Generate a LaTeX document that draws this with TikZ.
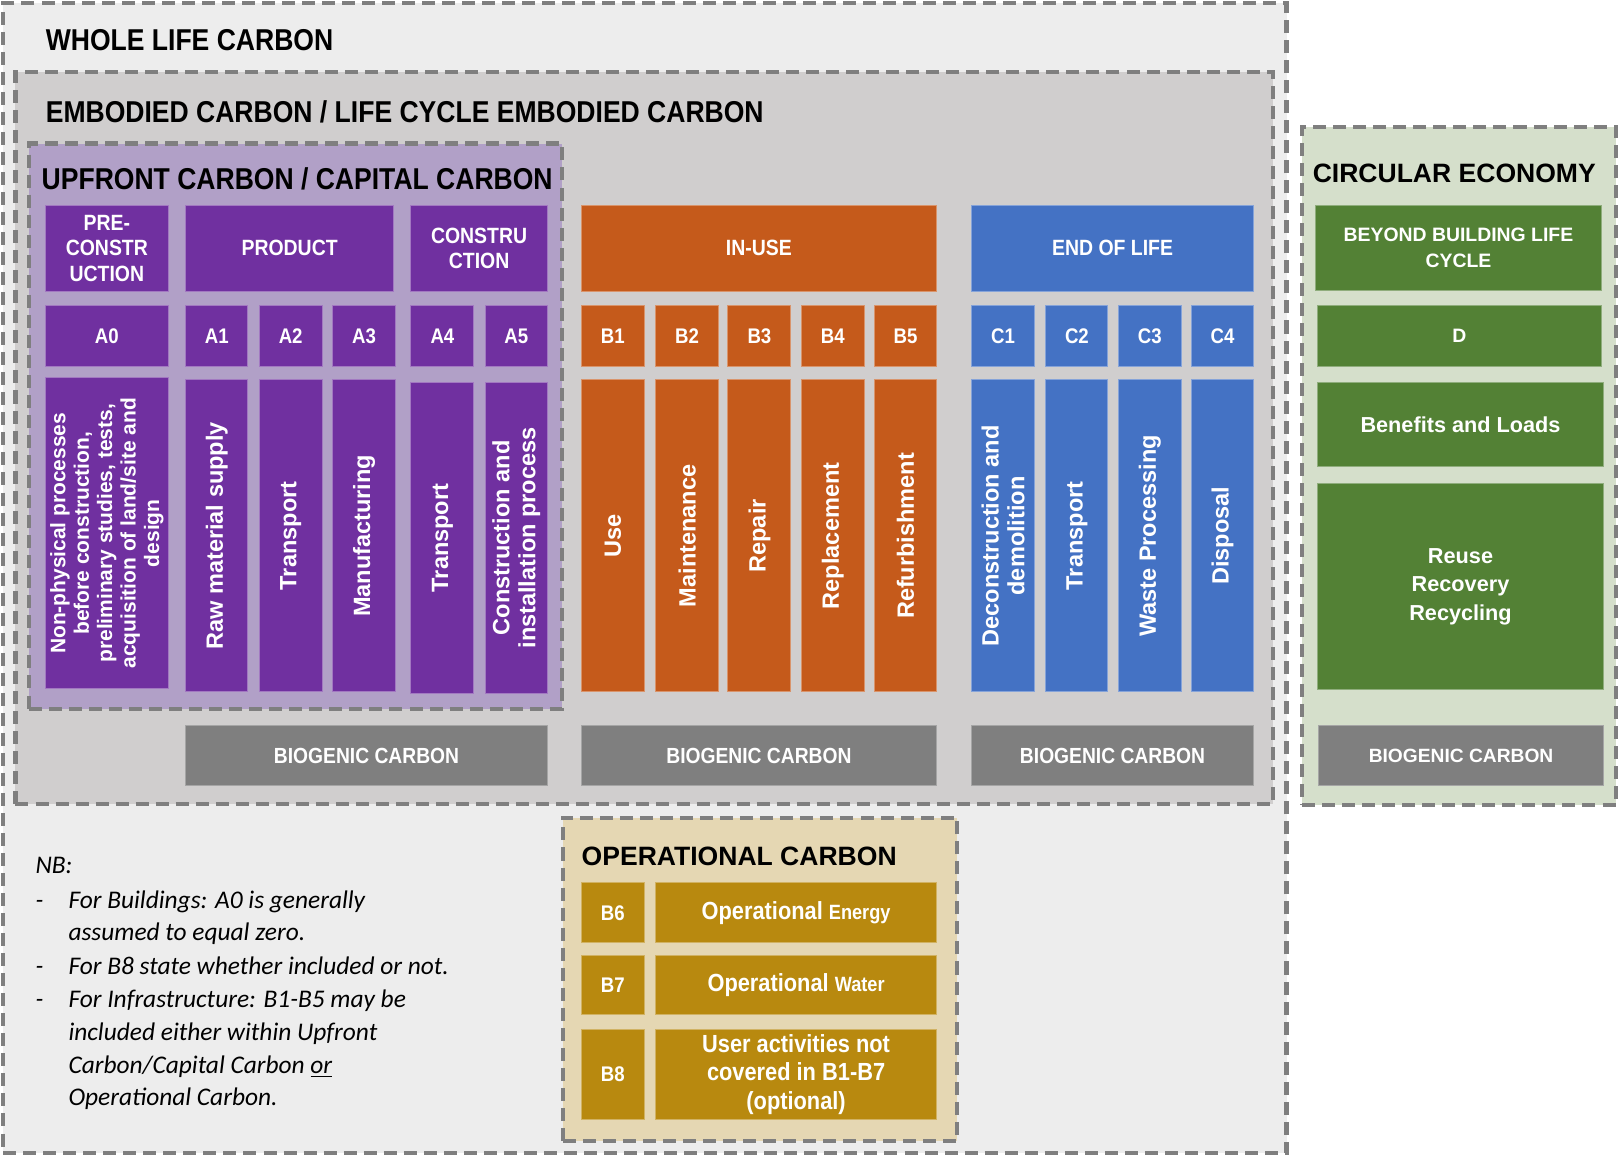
\documentclass[tikz,border=0pt]{standalone}
\usepackage{fontspec}
\setmainfont{Liberation Sans}
\newfontfamily\narfont[FakeStretch=0.88]{Liberation Sans}
\newfontfamily\nbfont{Carlito}
\definecolor{purp}{HTML}{7030A0}
\definecolor{upf}{HTML}{B1A0C7}
\definecolor{ora}{HTML}{C55A1B}
\definecolor{blu}{HTML}{4472C4}
\definecolor{grn}{HTML}{538135}
\definecolor{gld}{HTML}{B8890F}
\definecolor{bioc}{HTML}{7F7F7F}
\definecolor{emb}{HTML}{D0CECE}
\definecolor{whl}{HTML}{EDEDED}
\definecolor{circ}{HTML}{D5DFCB}
\definecolor{opf}{HTML}{E5D7B3}
\definecolor{dashc}{HTML}{7F7F7F}
\newcommand\bx[7]{\node[#6, minimum width={(#4-#2)*0.5pt}, minimum height={(#5-#3)*0.5pt}] (#1) at ({(#2+#4)/2},{(#3+#5)/2}) {#7};}
\begin{document}
\begin{tikzpicture}[x=0.5pt,y=-0.5pt,
  cont/.style={draw=dashc, line width=2pt, dash pattern=on 6.3pt off 3.4pt, inner sep=0pt},
  pf/.style={fill=purp, draw=purp!65!white, line width=0.5pt},
  of/.style={fill=ora, draw=ora!65!white, line width=0.5pt},
  bf/.style={fill=blu, draw=blu!65!white, line width=0.5pt},
  gf/.style={fill=grn, draw=grn!65!white, line width=0.5pt},
  yf/.style={fill=gld, draw=gld!65!white, line width=0.5pt},
  cell/.style={inner sep=0pt, text=white, align=center},
  hdr/.style={cell, font=\narfont\bfseries\fontsize{10.7}{12.25}\selectfont},
  code/.style={cell, font=\narfont\bfseries\fontsize{10.25}{12}\selectfont},
  desc/.style={inner sep=0pt},
  vert/.style={text=white, align=center, rotate=90, inner sep=0pt, font=\bfseries\fontsize{11.4}{12.5}\selectfont},
  vsmall/.style={vert, font=\bfseries\fontsize{10.15}{11.35}\selectfont},
  regs/.style={cell, font=\bfseries\fontsize{9.4}{12.4}\selectfont},
  regl/.style={cell, font=\bfseries\fontsize{10.5}{13.75}\selectfont},
  bion/.style={cell, fill=bioc, draw=bioc!70!white, line width=0.5pt, font=\narfont\bfseries\fontsize{10.6}{12}\selectfont},
  bior/.style={cell, fill=bioc, draw=bioc!70!white, line width=0.5pt, font=\bfseries\fontsize{9.3}{11}\selectfont},
  opc/.style={cell, yf, font=\narfont\bfseries\fontsize{12}{13.75}\selectfont},
  ttlN/.style={inner sep=0pt, anchor=base west, font=\narfont\bfseries\fontsize{14.6}{17}\selectfont},
  ttlR/.style={inner sep=0pt, anchor=base west, font=\bfseries\fontsize{12.85}{15}\selectfont},
  nbt/.style={inner sep=0pt, anchor=base west, font=\nbfont\itshape\fontsize{12.3}{16}\selectfont}]
\fill[white] (0,0) rectangle (1568,1122);
\useasboundingbox (0,0) rectangle (1568,1122);
% containers
\bx{whole}{3}{3}{1246}{1117}{cont, fill=whl}{}
\bx{embod}{15}{70}{1233}{779}{cont, fill=emb}{}
\bx{upfront}{28}{139}{544}{687}{cont, fill=upf}{}
\bx{circular}{1261}{123}{1565}{780}{cont, fill=circ}{}
\bx{operat}{545}{792}{927}{1105}{cont, fill=opf}{}
% titles
\node[ttlN] (wlct) at (44,49) {WHOLE LIFE CARBON};
\node[ttlN] (ect) at (44,119) {EMBODIED CARBON / LIFE CYCLE EMBODIED CARBON};
\node[ttlN] (uct) at (40,184) {UPFRONT CARBON / CAPITAL CARBON};
\node[ttlR] (cet) at (1271,177) {CIRCULAR ECONOMY};
\node[ttlR] (oct) at (563,838) {OPERATIONAL CARBON};
% row 1 headers
\bx{pre}{44}{199}{163}{282}{hdr,pf}{PRE-\\CONSTR\\UCTION}
\bx{prod}{180}{199}{381}{282}{hdr,pf}{PRODUCT}
\bx{cons}{398}{199}{530}{282}{hdr,pf}{CONSTRU\\CTION}
\bx{inuse}{563}{199}{907}{282}{hdr,of}{IN-USE}
\bx{eol}{941}{199}{1214}{282}{hdr,bf}{END OF LIFE}
\bx{beyond}{1274}{199}{1551}{281}{regs,gf}{BEYOND BUILDING LIFE\\CYCLE}
% row 2 codes
\bx{a0}{44}{296}{163}{355}{code,pf}{A0}
\bx{a1}{180}{296}{240}{355}{code,pf}{A1}
\bx{a2}{251}{296}{312}{355}{code,pf}{A2}
\bx{a3}{322}{296}{383}{355}{code,pf}{A3}
\bx{a4}{398}{296}{459}{355}{code,pf}{A4}
\bx{a5}{470}{296}{530}{355}{code,pf}{A5}
\bx{b1}{563}{296}{624}{355}{code,of}{B1}
\bx{b2}{635}{296}{696}{355}{code,of}{B2}
\bx{b3}{705}{296}{766}{355}{code,of}{B3}
\bx{b4}{776}{296}{837}{355}{code,of}{B4}
\bx{b5}{847}{296}{907}{355}{code,of}{B5}
\bx{c1}{941}{296}{1002}{355}{code,bf}{C1}
\bx{c2}{1013}{296}{1073}{355}{code,bf}{C2}
\bx{c3}{1083}{296}{1144}{355}{code,bf}{C3}
\bx{c4}{1154}{296}{1214}{355}{code,bf}{C4}
\bx{d}{1276}{296}{1551}{355}{regs,gf}{D}
% row 3 descriptions
\bx{a0d}{44}{366}{163}{667}{desc,pf}{}
\bx{a1d}{180}{368}{240}{670}{desc,pf}{}
\bx{a2d}{251}{368}{312}{670}{desc,pf}{}
\bx{a3d}{322}{368}{383}{670}{desc,pf}{}
\bx{a4d}{398}{370}{459}{672}{desc,pf}{}
\bx{a5d}{470}{370}{530}{672}{desc,pf}{}
\bx{b1d}{563}{368}{624}{670}{desc,of}{}
\bx{b2d}{635}{368}{696}{670}{desc,of}{}
\bx{b3d}{705}{368}{766}{670}{desc,of}{}
\bx{b4d}{776}{368}{837}{670}{desc,of}{}
\bx{b5d}{847}{368}{907}{670}{desc,of}{}
\bx{c1d}{941}{368}{1002}{670}{desc,bf}{}
\bx{c2d}{1013}{368}{1073}{670}{desc,bf}{}
\bx{c3d}{1083}{368}{1144}{670}{desc,bf}{}
\bx{c4d}{1154}{368}{1214}{670}{desc,bf}{}
\bx{benef}{1276}{370}{1553}{452}{regl,gf}{Benefits and Loads}
\bx{reuse}{1276}{468}{1553}{668}{regl,gf}{Reuse\\Recovery\\Recycling}
\node[vsmall] (a0t) at (a0d) {Non-physical processes\\before construction,\\preliminary studies, tests,\\acquisition of land/site and\\design};
\node[vert] (a1t) at (a1d) {Raw material supply};
\node[vert] (a2t) at (a2d) {Transport};
\node[vert] (a3t) at (a3d) {Manufacturing};
\node[vert] (a4t) at (a4d) {Transport};
\node[vert] (a5t) at (a5d) {Construction and\\installation process};
\node[vert] (b1t) at (b1d) {Use};
\node[vert] (b2t) at (b2d) {Maintenance};
\node[vert] (b3t) at (b3d) {Repair};
\node[vert] (b4t) at (b4d) {Replacement};
\node[vert] (b5t) at (b5d) {Refurbishment};
\node[vert] (c1t) at (c1d) {Deconstruction and\\demolition};
\node[vert] (c2t) at (c2d) {Transport};
\node[vert] (c3t) at (c3d) {Waste Processing};
\node[vert] (c4t) at (c4d) {Disposal};
% biogenic
\bx{bio1}{180}{703}{530}{761}{bion}{BIOGENIC CARBON}
\bx{bio2}{563}{703}{907}{761}{bion}{BIOGENIC CARBON}
\bx{bio3}{941}{703}{1214}{761}{bion}{BIOGENIC CARBON}
\bx{bio4}{1277}{703}{1553}{761}{bior}{BIOGENIC CARBON}
% operational
\bx{b6}{563}{855}{624}{913}{code,yf}{B6}
\bx{oe}{635}{855}{907}{913}{opc}{Operational {\fontsize{10}{12}\selectfont Energy}}
\bx{b7}{563}{925}{624}{983}{code,yf}{B7}
\bx{ow}{635}{925}{907}{983}{opc}{Operational {\fontsize{10}{12}\selectfont Water}}
\bx{b8}{563}{997}{624}{1084}{code,yf}{B8}
\bx{ua}{635}{997}{907}{1084}{opc}{User activities not\\covered in B1-B7\\(optional)}
% notes
\node[nbt] (nb0) at (34,846) {NB:};
\node[nbt] (nb1) at (34,880) {\makebox[16pt][l]{-}For Buildings: A0 is generally};
\node[nbt] (nb2) at (66,911) {assumed to equal zero.};
\node[nbt] (nb3) at (34,944) {\makebox[16pt][l]{-}For B8 state whether included or not.};
\node[nbt] (nb4) at (34,976) {\makebox[16pt][l]{-}For Infrastructure: B1-B5 may be};
\node[nbt] (nb5) at (66,1008) {included either within Upfront};
\node[nbt] (nb6) at (66,1040) {Carbon/Capital Carbon \underline{or}};
\node[nbt] (nb7) at (66,1071) {Operational Carbon.};
\end{tikzpicture}
\end{document}
